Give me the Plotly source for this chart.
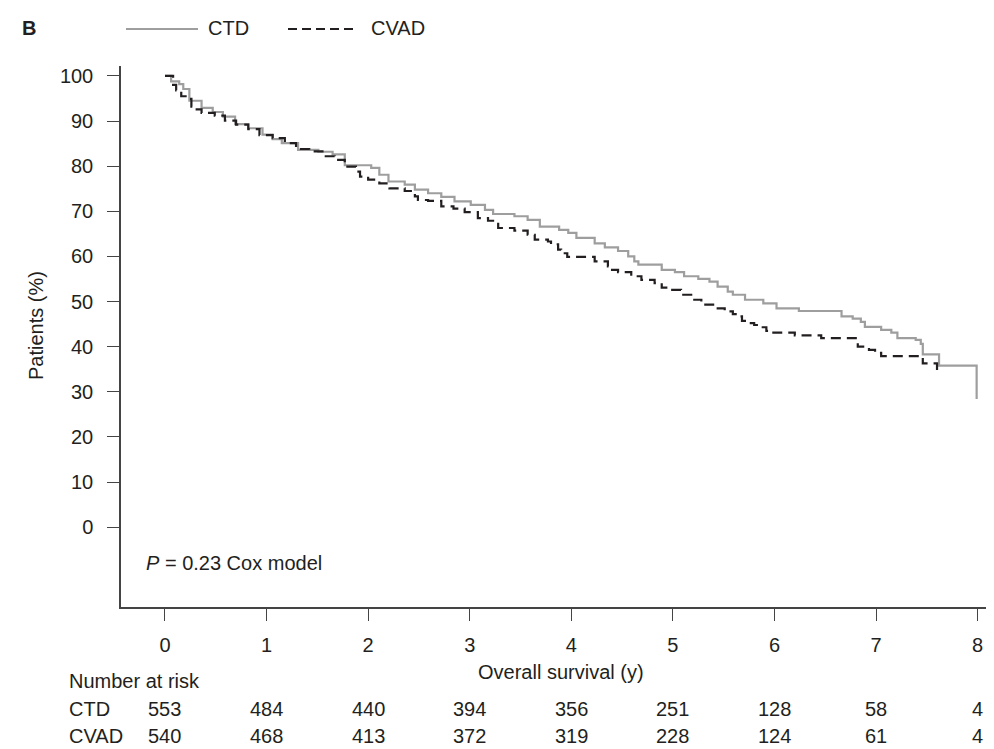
import plotly.graph_objects as go

# ---------------- data ----------------
series_names = ["CTD", "CVAD"]

ctd_time = [0, 0.06, 0.14, 0.18, 0.24, 0.36, 0.47, 0.57, 0.69, 0.82, 0.96, 1.06, 1.15, 1.31,
            1.51, 1.65, 1.77, 2.03, 2.11, 2.2, 2.36, 2.46, 2.59, 2.72, 2.85, 3.01, 3.15, 3.23,
            3.44, 3.57, 3.69, 3.88, 3.97, 4.05, 4.23, 4.33, 4.46, 4.56, 4.62, 4.66, 4.89, 5.02,
            5.11, 5.25, 5.36, 5.44, 5.54, 5.59, 5.71, 5.89, 6.02, 6.24, 6.66, 6.77, 6.85, 6.89,
            7.05, 7.15, 7.21, 7.39, 7.44, 7.46, 7.62, 7.99]
ctd_surv = [100, 98.8, 98.2, 97.1, 94.5, 92.9, 92.0, 91.0, 89.3, 88.4, 87.0, 86.0, 85.1, 83.6,
            83.2, 82.6, 80.2, 79.6, 78.1, 76.6, 75.9, 74.8, 74.0, 73.2, 72.2, 71.4, 70.3, 69.4,
            68.9, 68.1, 66.6, 65.9, 65.2, 64.1, 62.9, 62.0, 61.2, 60.0, 58.9, 58.2, 57.0, 56.5,
            55.6, 55.0, 54.4, 53.3, 52.2, 51.5, 50.4, 49.6, 48.5, 47.9, 46.7, 46.2, 45.5, 44.4,
            43.7, 43.1, 41.9, 41.5, 40.6, 38.3, 35.8, 28.4]

cvad_time = [0, 0.08, 0.11, 0.16, 0.23, 0.26, 0.29, 0.36, 0.49, 0.59, 0.7, 0.82, 0.93, 1.06,
             1.18, 1.29, 1.42, 1.55, 1.67, 1.77, 1.88, 1.92, 2.0, 2.11, 2.21, 2.36, 2.46, 2.49,
             2.59, 2.72, 2.84, 2.95, 3.08, 3.18, 3.28, 3.44, 3.57, 3.64, 3.77, 3.8, 3.87, 3.9,
             3.96, 4.23, 4.36, 4.39, 4.46, 4.59, 4.69, 4.82, 4.89, 4.95, 5.08, 5.18, 5.28, 5.41,
             5.51, 5.59, 5.65, 5.68, 5.74, 5.8, 5.87, 5.92, 5.97, 6.2, 6.46, 6.82, 6.93, 6.99,
             7.05, 7.46, 7.6]
cvad_surv = [100, 98.0, 96.8, 95.5, 94.9, 93.2, 92.6, 91.8, 91.2, 90.1, 89.2, 88.2, 86.9, 86.2,
             85.1, 83.8, 83.3, 82.2, 81.4, 79.9, 78.8, 77.7, 77.0, 76.2, 75.1, 74.5, 73.3, 72.5,
             72.3, 71.1, 70.6, 69.8, 68.5, 67.9, 66.3, 65.7, 64.8, 63.7, 63.3, 62.7, 61.5, 60.7,
             59.9, 58.9, 57.8, 57.0, 56.5, 55.6, 54.8, 54.1, 53.1, 52.6, 51.5, 50.4, 49.3, 48.5,
             47.8, 47.2, 46.7, 45.7, 45.2, 44.8, 44.3, 43.5, 43.1, 42.5, 41.9, 40.0, 39.3, 38.6,
             37.9, 36.3, 33.8]

risk_times = [0, 1, 2, 3, 4, 5, 6, 7, 8]
ctd_at_risk = [553, 484, 440, 394, 356, 251, 128, 58, 4]
cvad_at_risk = [540, 468, 413, 372, 319, 228, 124, 61, 4]

y_ticks = [0, 10, 20, 30, 40, 50, 60, 70, 80, 90, 100]

# ---------------- layout geometry (pixels) ----------------
W, H = 994, 749
ML, MR, MT, MB = 113, 2, 58, 150
PW = W - ML - MR
PH = H - MT - MB


def px(x):
    return (x - ML) / PW


def py(y):
    return (H - MB - y) / PH


FONT = "Liberation Sans, Arial, Helvetica, sans-serif"
TXT = "#231f20"
GREY = "#9e9e9e"
BLACK = "#231f20"
FS = 20

fig = go.Figure()
fig.add_trace(go.Scatter(x=ctd_time, y=ctd_surv, mode="lines", name=series_names[0],
                         line=dict(color=GREY, width=2.2, shape="hv"), showlegend=False))
fig.add_trace(go.Scatter(x=cvad_time, y=cvad_surv, mode="lines", name=series_names[1],
                         line=dict(color=BLACK, width=2.2, shape="hv", dash="10px,6px"),
                         showlegend=False))

annotations = []
shapes = []


def txt(x, y, s, anchor="left", angle=0, xref="paper"):
    return dict(x=x, y=y, xref=xref, yref="paper", text=s, showarrow=False,
                xanchor=anchor, yanchor="middle", textangle=angle, borderpad=0,
                font=dict(size=FS, color=TXT, family=FONT))


# panel letter
annotations.append(txt(px(13), py(20), "<b>B</b>"))
# manual legend
shapes.append(dict(type="line", xref="paper", yref="paper", x0=px(118), x1=px(190),
                   y0=py(21), y1=py(21), line=dict(color=GREY, width=2)))
annotations.append(txt(px(199), py(20), series_names[0]))
shapes.append(dict(type="line", xref="paper", yref="paper", x0=px(280), x1=px(345),
                   y0=py(21), y1=py(21), line=dict(color=BLACK, width=2, dash="9px,5px")))
annotations.append(txt(px(362), py(20), series_names[1]))

# y title
annotations.append(txt(px(28), py(318), "Patients (%)", anchor="center", angle=-90))
# x title
annotations.append(txt(0.5, py(664), "Overall survival (y)", anchor="center"))
# p value
annotations.append(txt(px(137), py(555), "<i>P</i> = 0.23 Cox model"))
# number at risk
annotations.append(txt(px(60), py(673), "Number at risk"))
for name, row, ypix in [(series_names[0], ctd_at_risk, 701), (series_names[1], cvad_at_risk, 728)]:
    annotations.append(txt(px(60), py(ypix), name))
    for t, n in zip(risk_times, row):
        annotations.append(txt(t, py(ypix), str(n), anchor="center", xref="x"))

fig.update_layout(
    width=W, height=H,
    margin=dict(l=ML, r=MR, t=MT, b=MB),
    paper_bgcolor="white", plot_bgcolor="white",
    font=dict(family=FONT, size=FS, color=TXT),
    annotations=annotations, shapes=shapes,
    showlegend=False,
)
fig.update_xaxes(range=[-0.433, 8.22], tickvals=risk_times, ticktext=[str(t) for t in risk_times],
                 showgrid=False, zeroline=False, showline=True, linecolor="#444", linewidth=1.5,
                 ticks="outside", ticklen=12, tickwidth=1.3, tickcolor="#444",
                 ticklabelstandoff=7, tickfont=dict(size=FS, color=TXT, family=FONT))
fig.update_yaxes(range=[-17.7, 102.2], tickvals=y_ticks, ticktext=[str(v) for v in y_ticks],
                 showgrid=False, zeroline=False, showline=True, linecolor="#444", linewidth=1.5,
                 ticks="outside", ticklen=12, tickwidth=1.3, tickcolor="#444",
                 ticklabelstandoff=10, tickfont=dict(size=FS, color=TXT, family=FONT))

fig.write_html("out.html")
